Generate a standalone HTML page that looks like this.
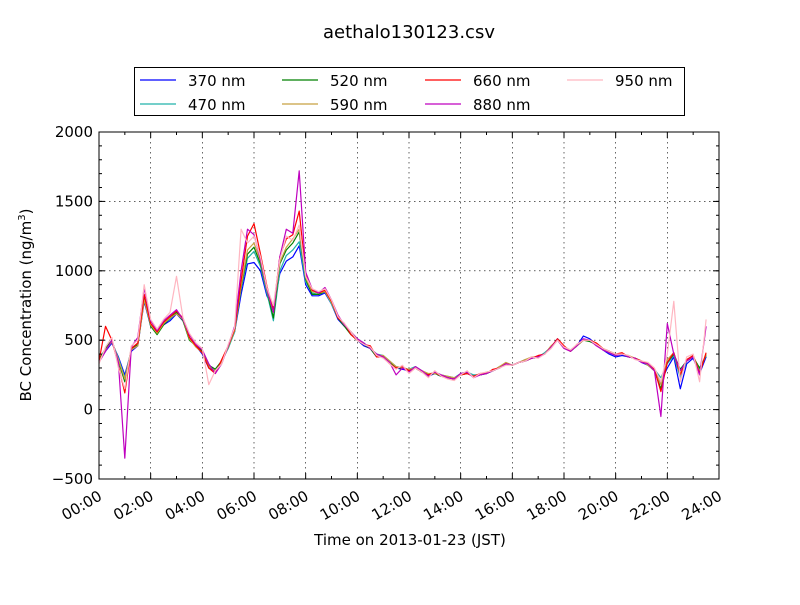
<!DOCTYPE html>
<html><head><meta charset="utf-8"><style>
body{margin:0;background:#fff;width:800px;height:600px;overflow:hidden;font-family:"Liberation Sans","DejaVu Sans",sans-serif}
</style></head><body>
<svg id="chart" width="800" height="600" xmlns="http://www.w3.org/2000/svg" font-family="'DejaVu Sans','Liberation Sans',sans-serif">
<rect width="800" height="600" fill="#fff"/>
<text x="409" y="38" font-size="18" text-anchor="middle">aethalo130123.csv</text>
<g id="grid"></g>
<g id="series"></g>
<g id="axes"></g>
<text x="410" y="545" font-size="15" text-anchor="middle">Time on 2013-01-23 (JST)</text>
<text transform="translate(31,305) rotate(-90)" font-size="15" text-anchor="middle">BC Concentration (ng/m<tspan dy="-6" font-size="10">3</tspan><tspan dy="6">)</tspan></text>
<g id="legend"></g>
</svg>
<script>
const categoriesStepHours = 0.25;
const yTicks = [-500,0,500,1000,1500,2000];
const xTickLabels = ["00:00","02:00","04:00","06:00","08:00","10:00","12:00","14:00","16:00","18:00","20:00","22:00","24:00"];
const seriesNames = ["370 nm","470 nm","520 nm","590 nm","660 nm","880 nm","950 nm"];
const seriesColors = ["#0000ff","#20b2aa","#008000","#c8a040","#ff0000","#bf00bf","#ffb6c1"];
const s370 = [350,420,480,380,250,420,460,780,600,560,610,640,690,640,520,460,400,300,280,350,450,560,830,1050,1060,1000,820,720,980,1070,1100,1180,900,820,820,840,760,650,600,560,500,460,440,380,380,340,300,290,280,300,270,240,260,240,230,220,250,270,240,250,260,280,300,330,320,340,350,370,380,400,450,510,450,420,460,530,510,470,430,400,380,390,380,370,340,320,280,200,300,380,150,330,370,260,380];
const s470 = [360,430,490,370,230,430,470,800,610,560,620,650,700,650,510,470,420,320,290,350,440,560,870,1090,1140,1030,840,640,1000,1110,1150,1210,920,840,830,850,760,660,610,560,510,480,440,400,390,350,310,300,290,310,280,250,270,250,240,230,260,270,250,250,260,280,310,330,320,340,360,370,380,410,450,500,450,430,460,500,500,470,440,410,390,400,380,370,350,330,290,230,330,390,230,350,380,290,390];
const s520 = [360,440,500,350,200,440,470,800,600,540,610,660,700,640,500,460,420,320,290,350,450,570,880,1120,1170,1050,860,660,1050,1150,1200,1280,940,830,830,850,780,660,600,540,500,470,440,380,380,340,300,300,280,300,270,250,260,240,230,220,250,260,240,250,260,280,300,330,320,340,350,370,380,400,450,500,450,420,460,500,490,470,440,420,400,400,380,370,350,320,280,150,340,400,290,350,380,300,390];
const s590 = [350,430,490,360,220,430,460,790,610,550,620,660,690,650,510,450,410,310,280,340,450,570,890,1150,1200,1070,860,700,1060,1170,1230,1300,950,850,840,850,770,670,610,560,510,470,450,390,390,350,310,300,290,300,280,260,260,250,240,230,250,260,240,250,270,280,310,340,320,340,360,380,380,400,460,500,450,420,460,500,500,480,440,420,400,400,390,370,350,320,280,180,360,410,260,360,390,270,400];
const s660 = [350,600,500,320,120,440,480,830,620,560,630,670,710,660,520,460,410,300,260,360,460,580,930,1250,1340,1120,890,720,1100,1230,1260,1430,980,860,840,860,780,660,620,540,500,470,460,380,380,330,300,310,280,300,270,250,270,240,230,220,250,260,240,260,260,290,300,330,320,340,350,370,390,400,450,510,460,420,470,500,500,480,440,420,400,410,380,370,350,330,290,130,340,410,250,360,390,260,410];
const s880 = [340,420,500,340,-350,450,520,880,640,570,640,680,720,650,540,470,430,330,260,330,460,600,1000,1300,1260,1080,870,700,1100,1300,1270,1720,990,870,840,880,790,680,610,560,510,480,440,400,380,340,250,300,270,310,280,240,270,250,230,220,260,270,230,250,260,280,300,330,320,340,350,370,380,400,450,500,440,420,460,510,500,460,430,410,390,400,380,370,340,330,280,-50,620,400,280,350,380,250,600];
const s950 = [330,450,520,300,150,460,500,900,650,580,650,700,960,660,550,480,440,180,280,330,470,590,1300,1200,1250,1100,880,750,1080,1250,1220,1330,960,870,850,870,790,670,620,560,500,470,450,390,370,330,290,320,260,300,270,230,280,240,220,210,250,280,230,260,270,280,300,320,320,340,350,380,370,400,440,500,450,430,470,500,500,470,440,420,400,400,390,360,350,340,300,200,400,780,200,380,400,200,650];
const seriesData = [s370,s470,s520,s590,s660,s880,s950];

const NS="http://www.w3.org/2000/svg";
const X0=99,X1=719,Y0=132,Y1=479,YMIN=-500,YMAX=2000,HMAX=24;
const xScale=h=>X0+(h/HMAX)*(X1-X0);
const yScale=v=>Y1-(v-YMIN)/(YMAX-YMIN)*(Y1-Y0);
function mk(tag,attrs,parent){const e=document.createElementNS(NS,tag);for(const k in attrs)e.setAttribute(k,attrs[k]);parent.appendChild(e);return e;}
const grid=document.getElementById('grid'),axes=document.getElementById('axes'),ser=document.getElementById('series'),leg=document.getElementById('legend');

xTickLabels.forEach((lab,i)=>{
  const h=i*2,x=xScale(h);
  const gl=mk('line',{x1:x,x2:x,y1:Y0,y2:Y1,stroke:'#000','stroke-width':0.6,'stroke-dasharray':'1.5,3.5'},grid);
  
  
  mk('line',{x1:x,x2:x,y1:Y1,y2:Y1-6,stroke:'#000'},axes);
  mk('line',{x1:x,x2:x,y1:Y0,y2:Y0+6,stroke:'#000'},axes);
  const t=mk('text',{x:x+4,y:Y1+20,'font-size':15,'text-anchor':'end',transform:`rotate(-30 ${x+4} ${Y1+20})`},axes);
  
  
  t.textContent=lab;
});
for(let h=1;h<HMAX;h+=2){const x=xScale(h);mk('line',{x1:x,x2:x,y1:Y1,y2:Y1-3,stroke:'#000'},axes);mk('line',{x1:x,x2:x,y1:Y0,y2:Y0+3,stroke:'#000'},axes);}
yTicks.forEach(v=>{
  const y=yScale(v);
  const gl=mk('line',{x1:X0,x2:X1,y1:y,y2:y,stroke:'#000','stroke-width':0.6,'stroke-dasharray':'1.5,3.5'},grid);
  
  
  mk('line',{x1:X0,x2:X0+6,y1:y,y2:y,stroke:'#000'},axes);
  mk('line',{x1:X1,x2:X1-6,y1:y,y2:y,stroke:'#000'},axes);
  const t=mk('text',{x:X0-6,y:y+5,'font-size':15,'text-anchor':'end'},axes);
  
  
  t.textContent=String(v).replace('-','\u2212');
});
for(let v=YMIN;v<=YMAX;v+=100){const y=yScale(v);mk('line',{x1:X0,x2:X0+3,y1:y,y2:y,stroke:'#000'},axes);mk('line',{x1:X1,x2:X1-3,y1:y,y2:y,stroke:'#000'},axes);}
const fr=mk('rect',{x:X0,y:Y0,width:X1-X0,height:Y1-Y0,fill:'none',stroke:'#000','stroke-width':1},axes);



seriesData.forEach((arr,si)=>{
  const pts=arr.map((v,i)=>xScale(i*categoriesStepHours).toFixed(1)+','+yScale(v).toFixed(1)).join(' ');
  const p=mk('polyline',{points:pts,fill:'none',stroke:seriesColors[si],'stroke-width':1.2,'stroke-linejoin':'round'},ser);
  
  
});

mk('rect',{x:134.5,y:67.5,width:550,height:48,fill:'#fff',stroke:'#000'},leg);
const colX=[140,282,425,567];
seriesNames.forEach((n,i)=>{
  const col=Math.floor(i/2),row=i%2;
  const x=colX[col],y=80+row*24;
  const g=mk('g',{},leg);
  
  
  mk('line',{x1:x,x2:x+36,y1:y,y2:y,stroke:seriesColors[i],'stroke-width':1.2},g);
  const t=mk('text',{x:x+48,y:y+6,'font-size':15},g);
  t.textContent=n;
});
</script>
</body></html>
